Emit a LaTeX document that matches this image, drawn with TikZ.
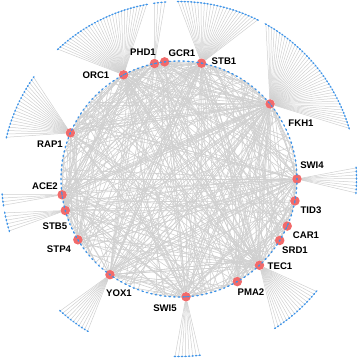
\documentclass[tikz,border=0pt]{standalone}
\usepackage{fontspec}
\setmainfont{Liberation Sans}
\usetikzlibrary{backgrounds}
\definecolor{edgegray}{RGB}{208,208,208}
\definecolor{tfred}{RGB}{242,106,106}
\definecolor{dotblue}{RGB}{62,148,232}
\begin{document}
\begin{tikzpicture}[x=1pt,y=1pt,
  tf/.style={circle,fill=tfred,minimum size=9.5pt,inner sep=0pt},
  lab/.style={font=\fontsize{9.6}{11}\selectfont\bfseries,inner sep=0pt},
  edge/.style={draw=edgegray,line width=0.6pt},
  fanedge/.style={draw=edgegray,line width=0.5pt}]
\useasboundingbox (0,0) rectangle (358,358);
\coordinate (C) at (179,179);
% inner target genes
\foreach \k in {1,...,160}{
  \path (C) ++(\k*2.25:118) coordinate (i\k);
}
% transcription factors
\foreach \n/\a in {ORC1/118,PHD1/102,GCR1/97,STB1/79,FKH1/39.5,SWI4/0,TID3/-10.7,
  CAR1/-23.5,SRD1/-31.4,TEC1/-47,PMA2/-60.4,SWI5/-86.6,YOX1/234.2,STP4/211,
  STB5/195.5,ACE2/187.7,RAP1/157}{
  \path (C) ++(\a:118) node[tf] (\n) {};
}
% inner chords
\pgfmathsetseed{4242}
\begin{pgfonlayer}{background}
\foreach \n/\c in {FKH1/55,STB1/36,ORC1/30,SWI4/30,TEC1/32,SWI5/30,YOX1/28,
  ACE2/26,STB5/18,STP4/13,RAP1/18,PHD1/28,GCR1/13,TID3/9,CAR1/9,SRD1/9,PMA2/9}{
  \foreach \j in {1,...,\c}{
    \pgfmathrandominteger{\k}{1}{160}
    \draw[edge] (\n) -- (i\k);
  }
}
\foreach \p/\q in {FKH1/ACE2,FKH1/STB5,FKH1/SWI5,FKH1/YOX1,STB1/YOX1,STB1/SWI5,
  SWI4/ACE2,SWI4/YOX1,ORC1/TEC1,PHD1/TEC1,PHD1/SWI5,ACE2/TEC1,STB5/SWI4,
  RAP1/FKH1,YOX1/TEC1,SWI5/ORC1,STB1/ACE2,GCR1/SWI5,STP4/FKH1,FKH1/TEC1}{
  \draw[edge] (\p) -- (\q);
}
\end{pgfonlayer}
% outer fans of targets
\foreach \n/\a/\b/\m in {ORC1/100.5/133/31,PHD1/94.5/98/3,STB1/63.7/90.3/25,
  FKH1/16.6/60.7/42,SWI4/-4.5/3.6/7,TEC1/-57.2/-39.3/16,SWI5/-91.3/-83.3/7,
  YOX1/228/239/10,STB5/191/197/5,ACE2/185/188.5/3,RAP1/145/166.4/19}{
  \foreach \j in {0,...,\m}{
    \pgfmathsetmacro{\ang}{\a+(\b-\a)*\j/\m}
    \path (C) ++(\ang:177.5) coordinate (\n-o\j);
    \begin{pgfonlayer}{background}
      \draw[fanedge] (\n) -- (\n-o\j);
    \end{pgfonlayer}
    \fill[dotblue,rotate around={\ang:(\n-o\j)}] (\n-o\j) ellipse (0.85pt and 1.5pt);
  }
}
% inner dots
\foreach \k in {1,...,160}{
  \fill[dotblue,rotate around={\k*2.25:(i\k)}] (i\k) ellipse (0.85pt and 1.6pt);
}
% centre marks of TFs
\foreach \n in {ORC1,PHD1,GCR1,STB1,FKH1,SWI4,TID3,CAR1,SRD1,TEC1,PMA2,SWI5,YOX1,STP4,STB5,ACE2,RAP1}{
  \fill[dotblue] (\n) circle (0.8pt);
}
% labels
\node[lab] (ORC1-l) at (96,283) {ORC1};
\node[lab] (PHD1-l) at (143,306) {PHD1};
\node[lab] (GCR1-l) at (182,305) {GCR1};
\node[lab] (STB1-l) at (224,297) {STB1};
\node[lab] (FKH1-l) at (301,235) {FKH1};
\node[lab] (SWI4-l) at (312,193) {SWI4};
\node[lab] (TID3-l) at (311,148) {TID3};
\node[lab] (CAR1-l) at (306,123) {CAR1};
\node[lab] (SRD1-l) at (295,108) {SRD1};
\node[lab] (TEC1-l) at (280,92) {TEC1};
\node[lab] (PMA2-l) at (251,66) {PMA2};
\node[lab] (SWI5-l) at (165,50) {SWI5};
\node[lab] (YOX1-l) at (119,65) {YOX1};
\node[lab] (STP4-l) at (59,109) {STP4};
\node[lab] (STB5-l) at (55,132) {STB5};
\node[lab] (ACE2-l) at (45,172) {ACE2};
\node[lab] (RAP1-l) at (50,214) {RAP1};
\end{tikzpicture}
\end{document}
